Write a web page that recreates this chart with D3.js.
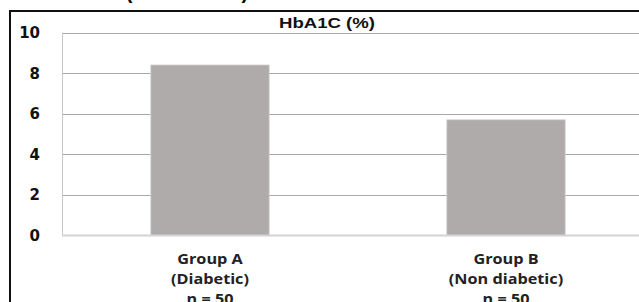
<!DOCTYPE html>
<html>
<head>
<meta charset="utf-8">
<script src="https://cdn.jsdelivr.net/npm/d3@7"></script>
<style>
  body { margin: 0; background: #fff; }
  svg { display: block; }
</style>
</head>
<body>
<svg width="639" height="302"></svg>
<script>
const svg = d3.select("svg");

const groups = ["Group A", "Group B"];
const subLabels = ["(Diabetic)", "(Non diabetic)"];
const sizes = ["n = 50", "n = 50"];
const hba1c = [8.4, 5.7];
const yTicks = [0, 2, 4, 6, 8, 10];

const plotLeft = 62, plotRight = 654, plotTop = 32.5, plotBottom = 235.5;

const x = d3.scaleBand()
  .domain(groups)
  .range([plotLeft, plotRight])
  .paddingInner(0.6)
  .paddingOuter(0.3);

const y = d3.scaleLinear()
  .domain([0, 10])
  .range([plotBottom, plotTop]);

// outer frame (cut off on the right and bottom)
svg.append("rect")
  .attr("x", 10).attr("y", 11)
  .attr("width", 700).attr("height", 400)
  .attr("fill", "none")
  .attr("stroke", "#111")
  .attr("stroke-width", 2);

// partial heading above the frame
svg.append("text")
  .attr("x", 187).attr("y", -1)
  .attr("text-anchor", "middle")
  .attr("font-family", "Liberation Sans, Arial, sans-serif")
  .attr("font-weight", "bold")
  .attr("font-size", 20)
  .text("(mean value)");

// gridlines
svg.append("g")
  .selectAll("line")
  .data(yTicks.filter(d => d > 0))
  .join("line")
  .attr("x1", plotLeft).attr("x2", 639)
  .attr("y1", d => Math.round(y(d)) + 0.5)
  .attr("y2", d => Math.round(y(d)) + 0.5)
  .attr("stroke", "#a8a8a8")
  .attr("stroke-width", 1);

// left plot edge
svg.append("line")
  .attr("x1", plotLeft + 0.5).attr("x2", plotLeft + 0.5)
  .attr("y1", y(10)).attr("y2", y(0))
  .attr("stroke", "#c8c8c8");

// bars
svg.append("g")
  .selectAll("rect")
  .data(groups)
  .join("rect")
  .attr("x", d => x(d))
  .attr("width", x.bandwidth())
  .attr("y", (d, i) => y(hba1c[i]))
  .attr("height", (d, i) => y(0) - y(hba1c[i]))
  .attr("fill", "#afabaa")
  .attr("stroke", "#d6d4d3")
  .attr("stroke-width", 0.8);

// baseline
svg.append("line")
  .attr("x1", plotLeft).attr("x2", 639)
  .attr("y1", y(0)).attr("y2", y(0))
  .attr("stroke", "#d4d4d4")
  .attr("stroke-width", 2);

// y tick labels
svg.append("g")
  .selectAll("text")
  .data(yTicks)
  .join("text")
  .attr("x", 40)
  .attr("y", d => y(d))
  .attr("dy", "0.36em")
  .attr("text-anchor", "end")
  .attr("font-family", "DejaVu Sans, Verdana, sans-serif")
  .attr("font-weight", "bold")
  .attr("font-size", 15)
  .attr("fill", "#111")
  .text(d => d);

// chart title
svg.append("text")
  .attr("x", 327).attr("y", 27.5)
  .attr("text-anchor", "middle")
  .attr("font-family", "Liberation Sans, Arial, sans-serif")
  .attr("font-weight", "bold")
  .attr("font-size", 14)
  .attr("textLength", 96)
  .attr("lengthAdjust", "spacingAndGlyphs")
  .attr("fill", "#111")
  .text("HbA1C (%)");

// category labels
const cat = svg.append("g")
  .selectAll("g")
  .data(groups)
  .join("g")
  .attr("transform", d => `translate(${x(d) + x.bandwidth() / 2},0) scale(1.12,1)`)
  .attr("font-family", "Open Sans, sans-serif")
  .attr("font-weight", "bold")
  .attr("font-size", 14.5)
  .attr("fill", "#222")
  .attr("text-anchor", "middle");

cat.append("text").attr("y", 264.5).text(d => d);
cat.append("text").attr("y", 284.5).text((d, i) => subLabels[i]);
cat.append("text").attr("y", 304).text((d, i) => sizes[i]);
</script>
</body>
</html>
